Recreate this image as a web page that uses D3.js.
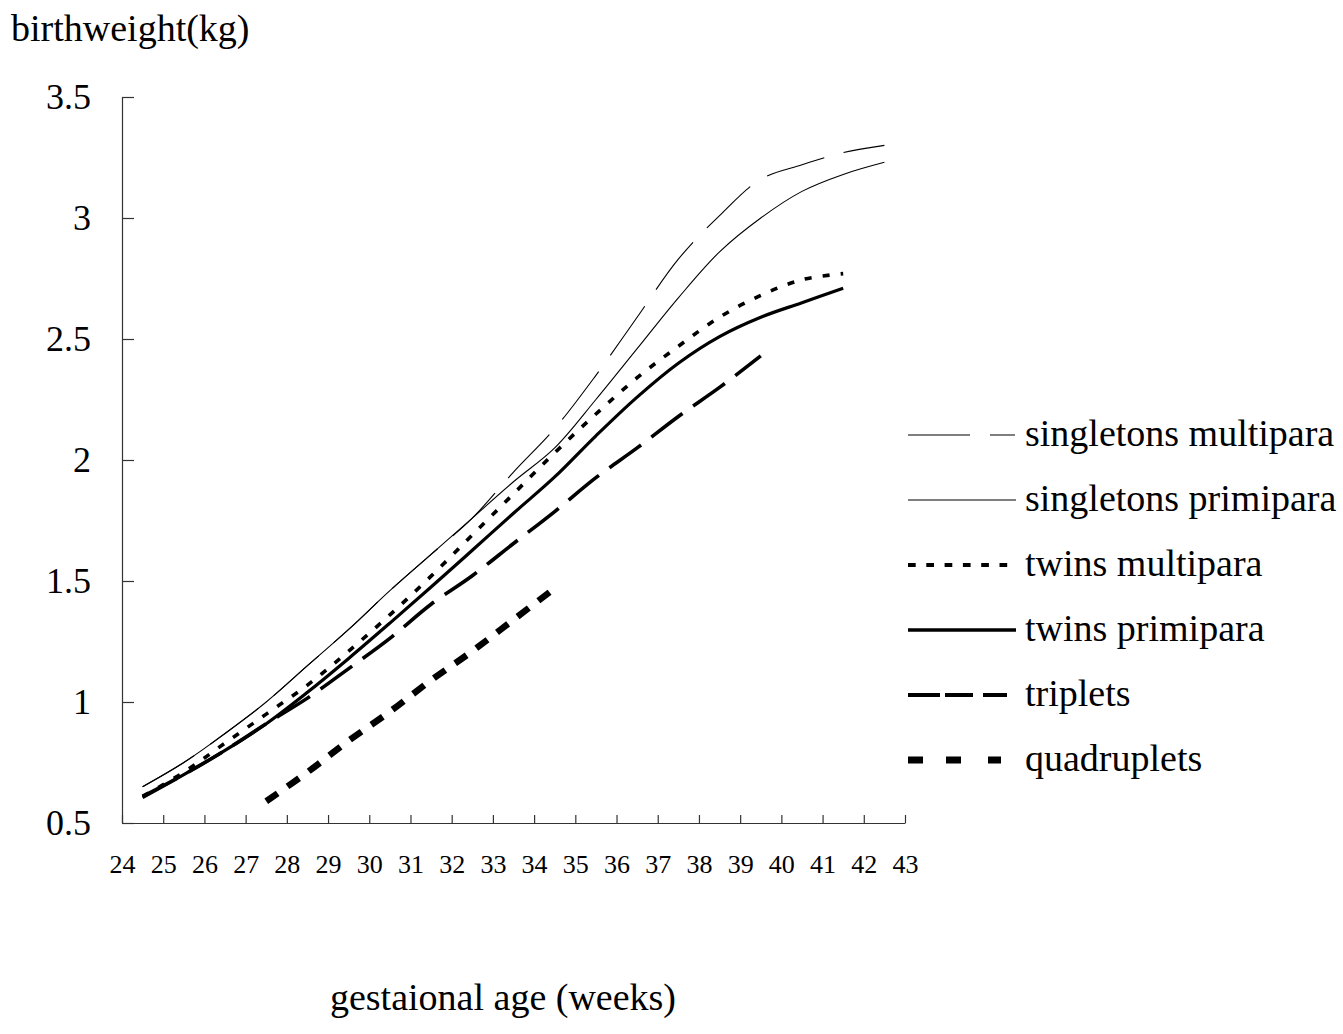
<!DOCTYPE html>
<html>
<head>
<meta charset="utf-8">
<script src="https://cdn.jsdelivr.net/npm/d3@7"></script>
<style>
  html, body { margin: 0; padding: 0; background: #fff; }
  svg { display: block; font-family: "Liberation Serif", "Times New Roman", serif; }
</style>
</head>
<body>
<svg id="chart" width="1343" height="1034"></svg>
<script>
// ---- data ----
const weeks = [24, 25, 26, 27, 28, 29, 30, 31, 32, 33, 34, 35, 36, 37, 38, 39, 40, 41, 42];
const xTickLabels = [24, 25, 26, 27, 28, 29, 30, 31, 32, 33, 34, 35, 36, 37, 38, 39, 40, 41, 42, 43];
const yTickValues = [0.5, 1, 1.5, 2, 2.5, 3, 3.5];

const singletonsMultipara = [0.65, 0.75, 0.87, 1.00, 1.15, 1.30, 1.46, 1.61, 1.76, 1.95, 2.13, 2.35, 2.59, 2.83, 3.01, 3.16, 3.22, 3.27, 3.30];
const singletonsPrimipara = [0.65, 0.75, 0.87, 1.00, 1.15, 1.30, 1.46, 1.61, 1.76, 1.91, 2.05, 2.25, 2.46, 2.67, 2.86, 3.00, 3.11, 3.18, 3.23];
const twinsMultipara      = [0.61, 0.71, 0.83, 0.95, 1.07, 1.21, 1.36, 1.52, 1.69, 1.86, 2.03, 2.19, 2.34, 2.47, 2.59, 2.68, 2.745, 2.77];
const twinsPrimipara      = [0.605, 0.70, 0.80, 0.91, 1.04, 1.18, 1.326, 1.475, 1.627, 1.78, 1.93, 2.10, 2.26, 2.40, 2.51, 2.59, 2.65, 2.71];
const triplets            = [0.61, 0.70, 0.80, 0.91, 1.016, 1.138, 1.263, 1.404, 1.522, 1.655, 1.787, 1.927, 2.05, 2.18, 2.30, 2.43];
const quadrupletsStart = 27;
const quadruplets         = [0.59, 0.71, 0.84, 0.96, 1.09, 1.21, 1.34, 1.47];

const seriesNames = ["singletons multipara", "singletons primipara", "twins multipara", "twins primipara", "triplets", "quadruplets"];

// ---- layout ----
const svg = d3.select("#chart");
const x = d3.scaleLinear().domain([24, 43]).range([122, 905]);
const y = d3.scaleLinear().domain([0.5, 3.5]).range([823, 97]);

const styles = [
  { width: 1.1, dash: "60,20", legendDash: "62,20,25,100" },
  { width: 1.1, dash: null, legendDash: null },
  { width: 3.6, dash: "7,11", legendDash: "7.7,10.6" },
  { width: 3.2, dash: null, legendDash: null },
  { width: 3.6, dash: "39,13", legendDash: "32,5,28,10,24,100" },
  { width: 6.5, dash: "14,12", legendDash: "15,23,15,27,13,100" }
];

function toPoints(vals, start) {
  return vals.map((v, i) => ({ w: start + i, v }));
}
const seriesData = [
  toPoints(singletonsMultipara, weeks[0]),
  toPoints(singletonsPrimipara, weeks[0]),
  toPoints(twinsMultipara, weeks[0]),
  toPoints(twinsPrimipara, weeks[0]),
  toPoints(triplets, weeks[0]),
  toPoints(quadruplets, quadrupletsStart)
];

// ---- axes ----
const yAxis = d3.axisLeft(y).tickValues(yTickValues).tickSize(-12).tickSizeOuter(0).tickPadding(31)
  .tickFormat(d => String(d));
const gy = svg.append("g").attr("transform", `translate(${x(24)},0)`).call(yAxis);
gy.selectAll("text").attr("font-size", 36).attr("fill", "#000").attr("font-family", "Liberation Serif");
gy.selectAll("line").attr("stroke", "#333").attr("stroke-width", 1.2);
gy.select(".domain").attr("stroke", "#333").attr("stroke-width", 1.2);

const xAxis = d3.axisBottom(x).tickValues(xTickLabels).tickSize(-8).tickSizeOuter(0).tickPadding(32)
  .tickFormat(d => String(d));
const gx = svg.append("g").attr("transform", `translate(0,${y(0.5)})`).call(xAxis);
gx.selectAll("text").attr("font-size", 26).attr("fill", "#000").attr("font-family", "Liberation Serif");
gx.selectAll("line").attr("stroke", "#333").attr("stroke-width", 1.2);
gx.select(".domain").attr("stroke", "#333").attr("stroke-width", 1.2);

// ---- lines ----
const line = d3.line()
  .x(d => x(d.w + 0.5))
  .y(d => y(d.v))
  .curve(d3.curveCatmullRom.alpha(0.5));

seriesData.forEach((data, i) => {
  svg.append("path")
    .datum(data)
    .attr("d", line)
    .attr("fill", "none")
    .attr("stroke", "#000")
    .attr("stroke-width", styles[i].width)
    .attr("stroke-dasharray", styles[i].dash)
    .attr("stroke-linecap", "butt");
});

// ---- legend ----
const legend = svg.append("g");
seriesNames.forEach((name, i) => {
  const ly = 435 + i * 65;
  legend.append("line")
    .attr("x1", 908).attr("x2", 1016)
    .attr("y1", ly).attr("y2", ly)
    .attr("stroke", "#000")
    .attr("stroke-width", i === 0 || i === 1 ? 1.1 : styles[i].width + 0.4)
    .attr("stroke-dasharray", styles[i].legendDash);
  legend.append("text")
    .attr("x", 1025).attr("y", ly + 11)
    .attr("font-size", 38)
    .attr("fill", "#000")
    .text(name);
});

// ---- titles ----
svg.append("text").attr("x", 11).attr("y", 41).attr("font-size", 38).attr("fill", "#000")
  .text("birthweight(kg)");
svg.append("text").attr("x", 503).attr("y", 1010).attr("text-anchor", "middle")
  .attr("font-size", 38).attr("fill", "#000")
  .text("gestaional age (weeks)");
</script>
</body>
</html>
